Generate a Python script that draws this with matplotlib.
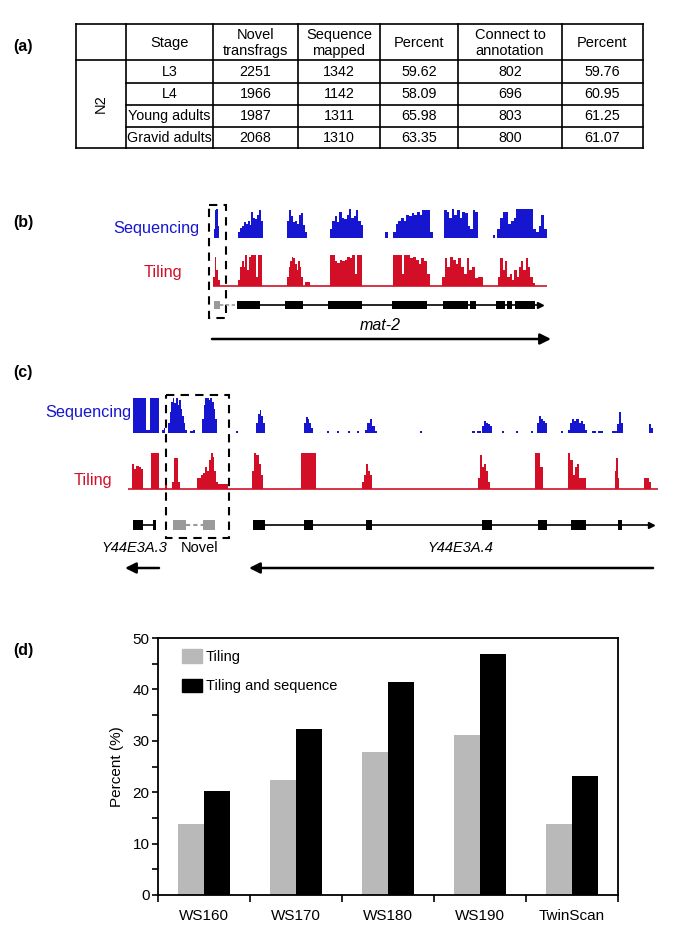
import numpy as np
import matplotlib
matplotlib.use("Agg")
import matplotlib.pyplot as plt
from matplotlib.patches import Rectangle, Patch

plt.rcParams['font.family'] = ['Liberation Sans', 'DejaVu Sans']

W, H = 685, 942
BLUE = "#1616d0"
RED = "#d20f26"
GREY = "#9a9a9a"

# ---------------- (a) table values
header = ["", "Stage", "Novel\ntransfrags", "Sequence\nmapped", "Percent",
          "Connect to\nannotation", "Percent"]
stages = ["L3", "L4", "Young adults", "Gravid adults"]
novel_transfrags = [2251, 1966, 1987, 2068]
sequence_mapped = [1342, 1142, 1311, 1310]
percent_mapped = ["59.62", "58.09", "65.98", "63.35"]
connect_annot = [802, 696, 803, 800]
percent_connect = ["59.76", "60.95", "61.25", "61.07"]

# ---------------- (b) mat-2 locus: (start, end, relative coverage)
seq_b = [
    (14, 19, [0.3, 0.95, 1.0, 0.4]),
    (38, 63, [0.2, 0.35, 0.4, 0.55, 0.5, 0.6, 0.45, 0.9, 0.7, 0.65, 0.8, 0.95, 0.6]),
    (87, 107, [0.6, 0.95, 0.75, 0.55, 0.6, 0.5, 0.8, 0.85, 0.45, 0.2]),
    (130, 163, [0.3, 0.6, 0.75, 0.55, 0.9, 0.7, 0.65, 0.8, 1.0, 0.7, 0.75, 0.95, 0.6, 0.45]),
    (185, 188, [0.2]),
    (193, 233, [0.2, 0.5, 0.6, 0.7, 0.6, 0.8, 0.75, 0.85, 0.8, 0.9, 0.8, 0.95, 0.95, 0.95, 0.2]),
    (244, 278, [0.95, 0.9, 0.7, 1.0, 0.8, 0.95, 0.7, 0.9, 0.85, 0.4, 0.3, 0.95, 0.9]),
    (293, 295, [0.1]),
    (297, 347, [0.3, 0.7, 0.9, 0.9, 0.5, 0.6, 0.7, 1.0, 1.0, 1.0, 1.0, 1.0, 1.0,
                0.3, 0.2, 0.4, 0.8, 0.3]),
]
til_b = [
    (13, 20, [0.3, 0.95, 0.5, 0.2]),
    (38, 62, [0.2, 0.6, 0.8, 0.6, 1.0, 0.5, 0.95, 1.0, 1.0, 1.0, 0.3, 1.0, 1.0]),
    (87, 103, [0.3, 0.6, 0.8, 0.95, 0.9, 0.7, 0.5, 0.8, 0.6, 0.3]),
    (105, 110, [0.12, 0.12]),
    (130, 162, [1.0, 1.0, 0.8, 0.75, 0.85, 0.8, 0.85, 0.95, 0.9, 1.0, 0.4, 1.0, 1.0]),
    (193, 230, [1.0, 1.0, 1.0, 0.4, 1.0, 1.0, 0.9, 0.95, 0.85, 0.7, 0.9, 0.8, 0.4]),
    (242, 283, [0.3, 0.9, 0.6, 0.95, 0.85, 0.7, 0.9, 0.6, 0.4, 0.9, 0.5, 0.6, 0.25, 0.3, 0.3]),
    (298, 335, [0.3, 0.9, 0.5, 0.8, 0.3, 0.4, 0.2, 0.5, 0.3, 0.6, 0.8, 0.5, 0.9, 0.6, 0.3, 0.1]),
]
til_b_span = (13, 347)
novel_b_exons = [(14, 20)]
novel_b_link = (20, 37)
mat2_exons = [(37, 60), (85, 103), (128, 162), (192, 227), (243, 268), (270, 276),
              (296, 305), (307, 312), (315, 335)]
mat2_span = (37, 340)

# ---------------- (c) Y44E3A.3 / novel / Y44E3A.4 locus
seq_c = [
    (13, 39, [1, 1, 1, 1, 1, 1, 0.1, 0.1, 1, 1, 1, 1]),
    (42, 45, [0.1, 0.15]),
    (48, 67, [0.3, 0.6, 0.9, 1.0, 0.85, 1.0, 0.8, 0.95, 0.7, 0.5, 0.3, 0.1]),
    (70, 75, [0.05, 0.1]),
    (82, 97, [0.4, 0.8, 1.0, 1.0, 0.95, 1.0, 0.9, 0.7, 0.4]),
    (116, 118, [0.05]),
    (136, 145, [0.3, 0.55, 0.65, 0.5, 0.3]),
    (184, 193, [0.3, 0.45, 0.4, 0.3, 0.15]),
    (207, 209, [0.05]), (217, 219, [0.05]), (228, 230, [0.05]), (237, 239, [0.05]),
    (245, 257, [0.1, 0.3, 0.4, 0.2, 0.05]),
    (300, 302, [0.05]),
    (352, 355, [0.05]), (357, 361, [0.05]),
    (362, 372, [0.2, 0.35, 0.3, 0.25, 0.2]),
    (382, 384, [0.05]), (396, 398, [0.05]), (411, 413, [0.05]),
    (417, 427, [0.3, 0.5, 0.4, 0.35, 0.3]),
    (441, 443, [0.05]),
    (448, 467, [0.1, 0.3, 0.4, 0.35, 0.4, 0.3, 0.35, 0.25, 0.1]),
    (472, 476, [0.05]), (478, 483, [0.05]),
    (492, 497, [0.05]),
    (497, 503, [0.25, 0.6, 0.3]),
    (529, 533, [0.25, 0.15]),
]
til_c = [
    (12, 23, [0.7, 0.55, 0.65, 0.6, 0.55]),
    (31, 39, [1.0, 1.0, 1.0, 1.0]),
    (45, 47, [0.1]),
    (52, 60, [0.2, 0.85, 0.85, 0.2]),
    (77, 108, [0.3, 0.3, 0.4, 0.45, 0.6, 0.5, 0.8, 1.0, 0.9, 0.5, 0.2, 0.15, 0.15,
               0.15, 0.15, 0.15]),
    (132, 143, [0.5, 1.0, 0.95, 0.7, 0.4]),
    (181, 196, [1.0, 1.0, 1.0, 1.0, 1.0, 1.0]),
    (242, 252, [0.2, 0.4, 0.7, 0.5, 0.4]),
    (358, 370, [0.3, 0.95, 0.6, 0.7, 0.5, 0.2]),
    (415, 423, [1.0, 1.0, 0.6]),
    (448, 466, [1.0, 0.8, 0.4, 0.6, 0.7, 0.3, 0.3, 0.3]),
    (495, 499, [0.5, 0.85, 0.3]),
    (524, 531, [0.3, 0.3, 0.2]),
]
til_c_span = (8, 538)
y44e3a3_exons = [(13, 23), (33, 36)]
y44e3a3_span = (13, 36)
novel_c_exons = [(53, 66), (83, 95)]
novel_c_link = (66, 83)
y44e3a4_exons = [(133, 145), (184, 193), (246, 252), (362, 372), (418, 427),
                 (451, 466), (498, 502)]
y44e3a4_span = (133, 531)

# ---------------- (d) bar chart values
releases = ["WS160", "WS170", "WS180", "WS190", "TwinScan"]
tiling = [13.8, 22.4, 27.8, 31.1, 13.9]
tiling_seq = [20.3, 32.3, 41.4, 46.9, 23.1]


fig = plt.figure(figsize=(W / 100, H / 100), dpi=100)


def px_axes(x0, y0, x1, y1):
    return fig.add_axes([x0 / W, 1 - y1 / H, (x1 - x0) / W, (y1 - y0) / H])


def draw_coverage(ax, blocks, color):
    for s, e, h in blocks:
        edges = np.linspace(s, e, len(h) + 1)
        ax.stairs(h, edges, fill=True, color=color, linewidth=0)


def draw_exons(ax, exons, height, color):
    ax.broken_barh([(s, e - s) for s, e in exons], (-height / 2, height),
                   facecolor=color, edgecolor='none')


def track_axes(box, xlim, ylim):
    ax = px_axes(*box)
    ax.set_xlim(*xlim)
    ax.set_ylim(*ylim)
    ax.axis('off')
    return ax


# overlay in pixel units for labels, table and boxes
ov = fig.add_axes([0, 0, 1, 1])
ov.set_xlim(0, W)
ov.set_ylim(H, 0)
ov.axis('off')

for lab, yy in [("(a)", 47), ("(b)", 222), ("(c)", 373), ("(d)", 650)]:
    ov.text(13, yy, lab, fontsize=11.5, fontweight='bold', va='center', ha='left')

# ---- table (a)
col_x = [76, 126, 213, 298, 380, 458, 562, 643]
row_y = [24, 60, 83, 105, 127, 148]
lw = 1.2
for x in col_x:
    ov.plot([x, x], [row_y[0], row_y[-1]], color='black', lw=lw)
ov.plot([col_x[0], col_x[-1]], [row_y[0], row_y[0]], color='black', lw=lw)
ov.plot([col_x[0], col_x[-1]], [row_y[1], row_y[1]], color='black', lw=lw)
for y in row_y[2:-1]:
    ov.plot([col_x[1], col_x[-1]], [y, y], color='black', lw=lw)
ov.plot([col_x[0], col_x[-1]], [row_y[-1], row_y[-1]], color='black', lw=lw)

cx = [(col_x[i] + col_x[i + 1]) / 2 for i in range(len(col_x) - 1)]
for i, h in enumerate(header):
    ov.text(cx[i], (row_y[0] + row_y[1]) / 2 + 1, h, ha='center', va='center',
            fontsize=10.5, linespacing=1.15)
rows = list(zip(stages, novel_transfrags, sequence_mapped, percent_mapped,
                connect_annot, percent_connect))
for r, vals in enumerate(rows):
    yy = (row_y[r + 1] + row_y[r + 2]) / 2
    for c, v in enumerate(vals):
        ov.text(cx[c + 1], yy, str(v), ha='center', va='center', fontsize=10.3)
ov.text(cx[0], (row_y[1] + row_y[-1]) / 2, "N2", rotation=90, ha='center',
        va='center', fontsize=10.5)

# ---- panel (b)
ax = track_axes((200, 209, 560, 238), (0, 360), (0, 1))
draw_coverage(ax, seq_b, BLUE)
ax = track_axes((200, 255, 560, 286), (0, 360), (0, 1))
draw_coverage(ax, til_b, RED)
ax.hlines(0, *til_b_span, color=RED, lw=1.2, clip_on=False)
ax = track_axes((200, 298, 560, 312), (0, 360), (-1, 1))
ax.hlines(0, *mat2_span, color='black', lw=1.2)
ax.hlines(0, *novel_b_link, color=GREY, lw=1.2, linestyles=(0, (2, 1.5)))
draw_exons(ax, novel_b_exons, 1.15, GREY)
draw_exons(ax, mat2_exons, 1.15, 'black')
ax.plot(mat2_span[1], 0, marker='>', ms=5, color='black', clip_on=False)

ov.text(199, 228, "Sequencing", color=BLUE, fontsize=11.7, ha='right', va='center')
ov.text(182, 272, "Tiling", color=RED, fontsize=11.7, ha='right', va='center')
ov.text(380, 326, "mat-2", fontsize=11.5, style='italic', ha='center', va='center')
ov.annotate('', xy=(551, 339), xytext=(212, 339),
            arrowprops=dict(arrowstyle='-|>', lw=1.8, color='black',
                            mutation_scale=16, shrinkA=0, shrinkB=0))
ov.add_patch(Rectangle((209, 205), 17, 113, fill=False, ls=(0, (4, 3)), lw=1.5,
                       edgecolor='black'))

# ---- panel (c)
ax = track_axes((120, 398, 665, 433), (0, 545), (0, 1))
draw_coverage(ax, seq_c, BLUE)
ax = track_axes((120, 453, 665, 489), (0, 545), (0, 1))
draw_coverage(ax, til_c, RED)
ax.hlines(0, *til_c_span, color=RED, lw=1.2, clip_on=False)
ax = track_axes((120, 518, 665, 532), (0, 545), (-1, 1))
ax.hlines(0, *y44e3a3_span, color='black', lw=1.2)
ax.hlines(0, *y44e3a4_span, color='black', lw=1.2)
ax.hlines(0, *novel_c_link, color=GREY, lw=1.5, linestyles=(0, (2, 1.5)))
draw_exons(ax, y44e3a3_exons, 1.4, 'black')
draw_exons(ax, novel_c_exons, 1.4, GREY)
draw_exons(ax, y44e3a4_exons, 1.4, 'black')
ax.plot(y44e3a4_span[1], 0, marker='>', ms=5, color='black', clip_on=False)

ov.text(88, 413, "Sequencing", color=BLUE, fontsize=11.7, ha='center', va='center')
ov.text(93, 480, "Tiling", color=RED, fontsize=11.7, ha='center', va='center')
ov.text(134, 548, "Y44E3A.3", fontsize=10.5, style='italic', ha='center', va='center')
ov.text(200, 548, "Novel", fontsize=10.5, ha='center', va='center')
ov.text(460, 548, "Y44E3A.4", fontsize=10.5, style='italic', ha='center', va='center')
ov.annotate('', xy=(125, 568), xytext=(159, 568),
            arrowprops=dict(arrowstyle='-|>', lw=1.8, color='black',
                            mutation_scale=16, shrinkA=0, shrinkB=0))
ov.annotate('', xy=(249, 568), xytext=(653, 568),
            arrowprops=dict(arrowstyle='-|>', lw=1.8, color='black',
                            mutation_scale=16, shrinkA=0, shrinkB=0))
ov.add_patch(Rectangle((166, 395), 63, 143, fill=False, ls=(0, (4, 3)), lw=1.5,
                       edgecolor='black'))

# ---- panel (d)
axd = px_axes(158, 638, 618, 895)
x = np.arange(len(releases))
bw = 0.28
axd.bar(x - bw / 2, tiling, bw, color='#b9b9b9', label="Tiling")
axd.bar(x + bw / 2, tiling_seq, bw, color='black', label="Tiling and sequence")
axd.set_xlim(-0.5, len(releases) - 0.5)
axd.set_ylim(0, 50)
axd.set_yticks(np.arange(0, 51, 10))
axd.set_yticks(np.arange(5, 50, 10), minor=True)
axd.set_xticks(x)
axd.set_xticklabels(releases, fontsize=11)
axd.set_xticks(np.arange(-0.5, len(releases), 1), minor=True)
axd.tick_params(axis='x', which='major', length=0, pad=10)
axd.tick_params(axis='x', which='minor', length=5, width=1.2, direction='out')
axd.tick_params(axis='y', which='both', length=4, width=1.2, direction='out',
                labelsize=11, pad=2)
for s in axd.spines.values():
    s.set_linewidth(1.3)
axd.set_ylabel("Percent (%)", fontsize=11, labelpad=6)
axd.legend(handles=[Patch(color='#b9b9b9', label="Tiling"),
                    Patch(color='black', label="Tiling and sequence")],
           loc='upper left', bbox_to_anchor=(0.03, 0.995), frameon=False,
           fontsize=10.5, handlelength=1.35, handleheight=1.0, handletextpad=0.3,
           labelspacing=1.0, borderpad=0.2)

fig.savefig("out.png", dpi=100)
